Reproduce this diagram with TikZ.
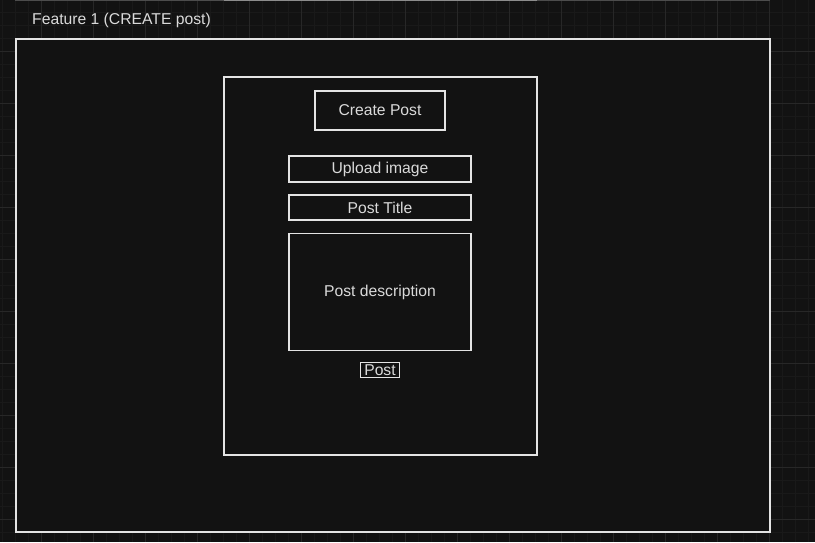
\documentclass[tikz,border=0pt]{standalone}
\usepackage{fontspec}
\setmainfont{Liberation Sans}
\definecolor{bakgrunn}{HTML}{121212}
\definecolor{rutenett}{HTML}{191919}
\definecolor{hovednett}{HTML}{272727}
\definecolor{strek}{HTML}{E4E4E4}
\definecolor{tekst}{HTML}{DADADA}
\definecolor{kantgraa}{HTML}{4C4C4C}
\definecolor{kantlys}{HTML}{8C8C8C}
\tikzset{
  felt/.style={draw=strek, line width=1.1pt, fill=bakgrunn, text=tekst, inner sep=0pt},
  etikett/.style={text=tekst, inner sep=0pt},
}
\begin{document}
\begin{tikzpicture}[x=1pt, y=-1pt, font=\fontsize{15.7}{18}\selectfont]
		\useasboundingbox (0,0) rectangle (815,542);
		% Bakgrunn og rutenett
		\fill[bakgrunn] (0,0) rectangle (815,542);
		\foreach \x in {2,15,...,815} \draw[rutenett, line width=0.8pt] (\x,0) -- (\x,542);
		\foreach \y in {12,25,...,542} \draw[rutenett, line width=0.8pt] (0,\y) -- (815,\y);
		\foreach \x in {41,93,...,815} \draw[hovednett, line width=0.9pt] (\x,0) -- (\x,542);
		\foreach \y in {51,103,...,542} \draw[hovednett, line width=0.9pt] (0,\y) -- (815,\y);

		% Kant fra rammen over
		\draw[kantgraa, line width=1.4pt] (15,0.7) -- (770,0.7);
		\draw[kantlys, line width=1.4pt] (224,0.7) -- (537,0.7);

		% Ytre ramme med tittel
		\draw[strek, line width=1.2pt, fill=bakgrunn] (16,39) rectangle (770,532);
		\node[etikett, anchor=base west] (tittel) at (32,24.5) {Feature 1 (CREATE post)};

		% Indre ramme
		\draw[strek, line width=1.1pt] (224,77) rectangle (537,455);

		% Felter i skjemaet
		\node[felt, minimum width=130pt, minimum height=39pt] (opprett) at (380,110.5) {Create Post};
		\node[felt, minimum width=182pt, minimum height=26pt] (bilde) at (380,169) {Upload image};
		\node[felt, minimum width=182pt, minimum height=25pt] (tittelfelt) at (380,207.5) {Post Title};
		\node[felt, minimum width=182pt, minimum height=117pt] (beskrivelse) at (380,292) {Post description};

		% Knapp
		\node[felt, line width=1pt, inner xsep=3.5pt, inner ysep=1pt, minimum height=15pt] (knapp) at (380,370) {Post};
	\end{tikzpicture}
\end{document}
